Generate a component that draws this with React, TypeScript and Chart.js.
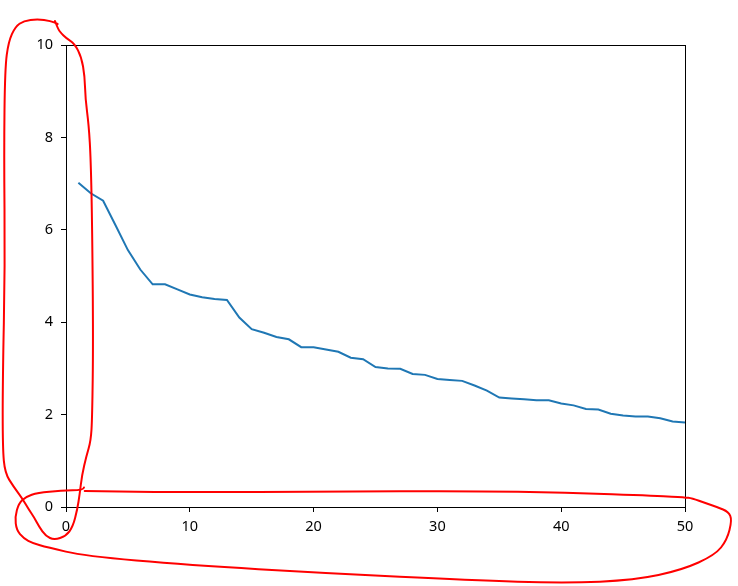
import React, { useEffect, useRef } from "react";
import { Chart, registerables } from "chart.js";

Chart.register(...registerables);

const xValues = [
  1, 2, 3, 4, 5, 6, 7, 8, 9, 10, 11, 12, 13, 14, 15, 16, 17, 18, 19, 20, 21, 22, 23, 24, 25,
  26, 27, 28, 29, 30, 31, 32, 33, 34, 35, 36, 37, 38, 39, 40, 41, 42, 43, 44, 45, 46, 47, 48, 49, 50,
];
const yValues = [
  7.02, 6.79, 6.63, 6.1, 5.56, 5.14, 4.82, 4.82, 4.71, 4.6, 4.54, 4.5, 4.48, 4.1, 3.85, 3.77, 3.68,
  3.63, 3.46, 3.46, 3.41, 3.36, 3.23, 3.2, 3.03, 3.0, 2.99, 2.88, 2.86, 2.77, 2.75, 2.73, 2.63, 2.52,
  2.37, 2.35, 2.33, 2.31, 2.31, 2.24, 2.2, 2.12, 2.11, 2.02, 1.98, 1.96, 1.96, 1.92, 1.85, 1.83,
];
const xTicks = [0, 10, 20, 30, 40, 50];
const yTicks = [0, 2, 4, 6, 8, 10];

// Hand-drawn red annotation strokes (decorative overlay, page pixels)
const verticalLoop: [number, number][] = [
  [55, 21], [58, 29], [61, 33], [66, 38], [74.6, 43.7], [81.4, 57], [84.7, 76], [85.4, 98.9],
  [88.8, 125.5], [90.8, 159.7], [92.2, 228], [93.2, 342], [92.2, 418], [90.8, 441], [86.4, 456],
  [82, 475], [79.7, 494], [77.3, 509.5], [72.9, 526.6], [66, 536], [54.2, 540], [45.8, 536],
  [39, 526.6], [33.9, 517], [28.8, 509.5], [22, 498], [13.6, 486.7], [5, 473], [2.7, 448.7],
  [2.7, 380], [5, 266], [4, 152], [5, 68], [8.5, 41.8], [15.3, 26.6], [23.7, 20.9], [37.3, 19],
  [50.8, 20.9], [57.6, 24],
];
const horizontalLoop: [number, number][] = [
  [84, 487.5], [83.8, 490], [61, 490.7], [37.6, 492.7], [25.9, 496.7], [18.8, 503.3], [15, 516.7],
  [16.5, 530], [23.5, 538.3], [33, 543.3], [47, 547.3], [84.7, 556], [188, 565], [329, 573.3],
  [470.6, 580], [564.7, 583.3], [635, 580], [682, 570], [715, 555], [727, 540], [732, 520],
  [728.5, 511.7], [717.6, 507.3], [706, 503.3], [692, 498.3], [684.7, 497.3], [659, 496],
  [565, 492.7], [470.6, 491], [329, 491.7], [188, 492.3], [84.7, 491],
];

const FONT = "'Noto Sans', 'DejaVu Sans', sans-serif";

function strokeSmooth(ctx: CanvasRenderingContext2D, pts: [number, number][]) {
  ctx.beginPath();
  ctx.moveTo(pts[0][0], pts[0][1]);
  for (let i = 1; i < pts.length - 1; i++) {
    const mx = (pts[i][0] + pts[i + 1][0]) / 2;
    const my = (pts[i][1] + pts[i + 1][1]) / 2;
    ctx.quadraticCurveTo(pts[i][0], pts[i][1], mx, my);
  }
  const last = pts[pts.length - 1];
  ctx.lineTo(last[0], last[1]);
  ctx.stroke();
}

const framePlugin = {
  id: "frame",
  afterDatasetsDraw(chart: any) {
    const { ctx, chartArea } = chart;
    ctx.save();
    ctx.strokeStyle = "#000";
    ctx.lineWidth = 1;
    ctx.strokeRect(
      Math.round(chartArea.left) + 0.5,
      Math.round(chartArea.top) + 0.5,
      Math.round(chartArea.right - chartArea.left),
      Math.round(chartArea.bottom - chartArea.top)
    );
    ctx.restore();
  },
};

const markupPlugin = {
  id: "markup",
  afterDraw(chart: any) {
    const ctx: CanvasRenderingContext2D = chart.ctx;
    ctx.save();
    ctx.strokeStyle = "#ff0000";
    ctx.lineWidth = 2;
    ctx.lineJoin = "round";
    ctx.lineCap = "round";
    strokeSmooth(ctx, verticalLoop);
    strokeSmooth(ctx, horizontalLoop);
    ctx.restore();
  },
};

export default function App() {
  const ref = useRef<HTMLCanvasElement | null>(null);

  useEffect(() => {
    if (!ref.current) return;
    const chart = new Chart(ref.current, {
      type: "line",
      data: {
        datasets: [
          {
            data: xValues.map((x, i) => ({ x, y: yValues[i] })),
            borderColor: "#1f77b4",
            borderWidth: 2,
            pointRadius: 0,
            tension: 0,
            fill: false,
          },
        ],
      },
      options: {
        animation: false,
        responsive: true,
        maintainAspectRatio: false,
        layout: { padding: { top: 45, right: 53, left: 0, bottom: 0 } },
        plugins: { legend: { display: false }, tooltip: { enabled: false } },
        scales: {
          x: {
            type: "linear",
            min: 0,
            max: 50,
            afterFit: (s: any) => {
              s.height = 79;
            },
            afterBuildTicks: (s: any) => {
              s.ticks = xTicks.map((v) => ({ value: v }));
            },
            ticks: {
              color: "#000",
              font: { family: FONT, size: 14.5 },
              padding: 6,
              maxRotation: 0,
            },
            grid: {
              display: true,
              drawOnChartArea: false,
              drawTicks: true,
              tickLength: 5,
              color: "#000",
            },
            border: { display: true, color: "#000", width: 1 },
          },
          y: {
            type: "linear",
            min: 0,
            max: 10,
            afterFit: (s: any) => {
              s.width = 66;
            },
            afterBuildTicks: (s: any) => {
              s.ticks = yTicks.map((v) => ({ value: v }));
            },
            ticks: {
              color: "#000",
              font: { family: FONT, size: 14.5 },
              padding: 8,
            },
            grid: {
              display: true,
              drawOnChartArea: false,
              drawTicks: true,
              tickLength: 5,
              color: "#000",
            },
            border: { display: true, color: "#000", width: 1 },
          },
        },
      },
      plugins: [framePlugin, markupPlugin],
    });
    return () => chart.destroy();
  }, []);

  return (
    <div style={{ position: "absolute", left: 0, top: 0, width: 738, height: 586, background: "#fff" }}>
      <canvas ref={ref} />
    </div>
  );
}
